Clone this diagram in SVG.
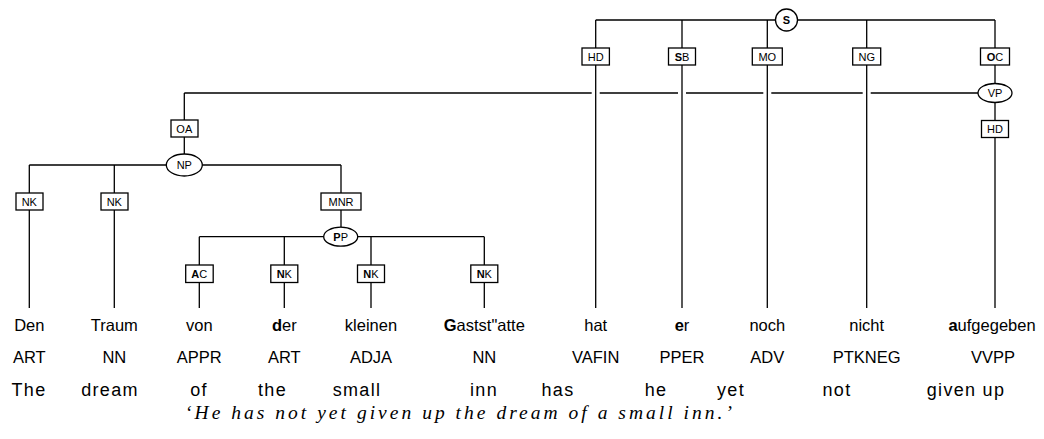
<svg xmlns="http://www.w3.org/2000/svg" width="1044" height="439" viewBox="0 0 1044 439">
<style>
.ln{stroke:#000;stroke-width:1.3;fill:none}
.bx{fill:#fff;stroke:#000;stroke-width:1.3}
.el{fill:#fff;stroke:#000;stroke-width:1.3}
.lb{font-family:"Liberation Sans",Arial,sans-serif;font-size:11px;text-anchor:middle;fill:#000}
.wd{font-family:"Liberation Sans",Arial,sans-serif;font-size:16.5px;text-anchor:middle;fill:#000}
.en{font-family:"Liberation Sans",Arial,sans-serif;font-size:18px;letter-spacing:1.3px;text-anchor:middle;fill:#000}
.tr{font-family:"Liberation Serif","Times New Roman",serif;font-style:italic;font-size:19.5px;fill:#000}
.b{font-weight:bold}
</style>
<rect width="1044" height="439" fill="#fff"/>
<g id="connectors">
<path class="ln" d="M595.7,20H995M595.7,20V308M682,20V308M767.3,20V308M866.7,20V308M995,20V308"/>
<path class="ln" d="M184.3,93V165M184.3,93H591.7M599.7,93H678M686,93H763.3M771.3,93H862.7M870.7,93H990"/>
<path class="ln" d="M29.3,165H341M29.3,165V308M114.3,165V308M341,165V236.7"/>
<path class="ln" d="M199.3,236.7H484.3M199.3,236.7V308M284.3,236.7V308M371,236.7V308M484.3,236.7V308"/>
</g>
<g id="S"><ellipse class="el" cx="786.5" cy="20" rx="11" ry="11"/><text class="lb b" x="786.5" y="24">S</text></g>
<g id="HD1"><rect class="bx" x="582" y="48" width="27.4" height="17"/><text class="lb" x="595.7" y="60.5">HD</text></g>
<g id="SB"><rect class="bx" x="668.5" y="48" width="27" height="17"/><text class="lb" x="682" y="60.5"><tspan class="b">S</tspan>B</text></g>
<g id="MO"><rect class="bx" x="752.3" y="48" width="30" height="17"/><text class="lb" x="767.3" y="60.5">MO</text></g>
<g id="NG"><rect class="bx" x="852.7" y="48" width="28" height="17"/><text class="lb" x="866.7" y="60.5">NG</text></g>
<g id="OC"><rect class="bx" x="980.5" y="48" width="29" height="17"/><text class="lb" x="995" y="60.5"><tspan class="b">O</tspan>C</text></g>
<g id="VP"><ellipse class="el" cx="995" cy="93" rx="17" ry="9.5"/><text class="lb" x="995" y="97">VP</text></g>
<g id="HD2"><rect class="bx" x="981.5" y="120.5" width="27" height="17"/><text class="lb" x="995" y="133">HD</text></g>
<g id="OA"><rect class="bx" x="171" y="120" width="27" height="17"/><text class="lb" x="184.3" y="132.5">OA</text></g>
<g id="NP"><ellipse class="el" cx="184.3" cy="165" rx="18" ry="11"/><text class="lb" x="184.3" y="169">NP</text></g>
<g id="NK1"><rect class="bx" x="16" y="193" width="27" height="17"/><text class="lb" x="29.3" y="205.5">NK</text></g>
<g id="NK2"><rect class="bx" x="101" y="193" width="27" height="17"/><text class="lb" x="114.3" y="205.5">NK</text></g>
<g id="MNR"><rect class="bx" x="321" y="193" width="40" height="17"/><text class="lb" x="341" y="205.5">MNR</text></g>
<g id="PP"><ellipse class="el" cx="340.7" cy="236.7" rx="17" ry="9.5"/><text class="lb" x="340.7" y="240.7"><tspan class="b">P</tspan>P</text></g>
<g id="AC"><rect class="bx" x="185.7" y="265" width="27.5" height="17.5"/><text class="lb" x="199.3" y="277.8"><tspan class="b">A</tspan>C</text></g>
<g id="NK3"><rect class="bx" x="270.8" y="265" width="27" height="17.5"/><text class="lb" x="284.3" y="277.8"><tspan class="b">N</tspan>K</text></g>
<g id="NK4"><rect class="bx" x="357.5" y="265" width="27" height="17.5"/><text class="lb" x="371" y="277.8"><tspan class="b">N</tspan>K</text></g>
<g id="NK5"><rect class="bx" x="470.8" y="265" width="27" height="17.5"/><text class="lb" x="484.3" y="277.8"><tspan class="b">N</tspan>K</text></g>
<g id="words">
<text class="wd" x="29.3" y="331">Den</text>
<text class="wd" x="114.3" y="331">Traum</text>
<text class="wd" x="199.3" y="331">von</text>
<text class="wd" x="284.3" y="331"><tspan class="b">d</tspan>er</text>
<text class="wd" x="371" y="331">kleinen</text>
<text class="wd" x="484.3" y="331"><tspan class="b">G</tspan>astst"atte</text>
<text class="wd" x="595.7" y="331">hat</text>
<text class="wd" x="682" y="331"><tspan class="b">e</tspan>r</text>
<text class="wd" x="767.3" y="331">noch</text>
<text class="wd" x="866.7" y="331">nicht</text>
<text class="wd" x="992" y="331"><tspan class="b">a</tspan>ufgegeben</text>
</g>
<g id="tags">
<text class="wd" x="29.3" y="363">ART</text>
<text class="wd" x="114.3" y="363">NN</text>
<text class="wd" x="199.3" y="363">APPR</text>
<text class="wd" x="284.3" y="363">ART</text>
<text class="wd" x="371" y="363">ADJA</text>
<text class="wd" x="484.3" y="363">NN</text>
<text class="wd" x="595.7" y="363">VAFIN</text>
<text class="wd" x="682" y="363">PPER</text>
<text class="wd" x="767.3" y="363">ADV</text>
<text class="wd" x="866.7" y="363">PTKNEG</text>
<text class="wd" x="993" y="363">VVPP</text>
</g>
<g id="english">
<text class="en" x="29" y="396">The</text>
<text class="en" x="110" y="396">dream</text>
<text class="en" x="199" y="396">of</text>
<text class="en" x="272.5" y="396">the</text>
<text class="en" x="357" y="396">small</text>
<text class="en" x="484" y="396">inn</text>
<text class="en" x="558" y="396">has</text>
<text class="en" x="656" y="396">he</text>
<text class="en" x="731" y="396">yet</text>
<text class="en" x="837" y="396">not</text>
<text class="en" x="966" y="396">given up</text>
</g>
<text class="tr" x="185" y="419" textLength="547" lengthAdjust="spacing">‘He has not yet given up the dream of a small inn.’</text>
</svg>
